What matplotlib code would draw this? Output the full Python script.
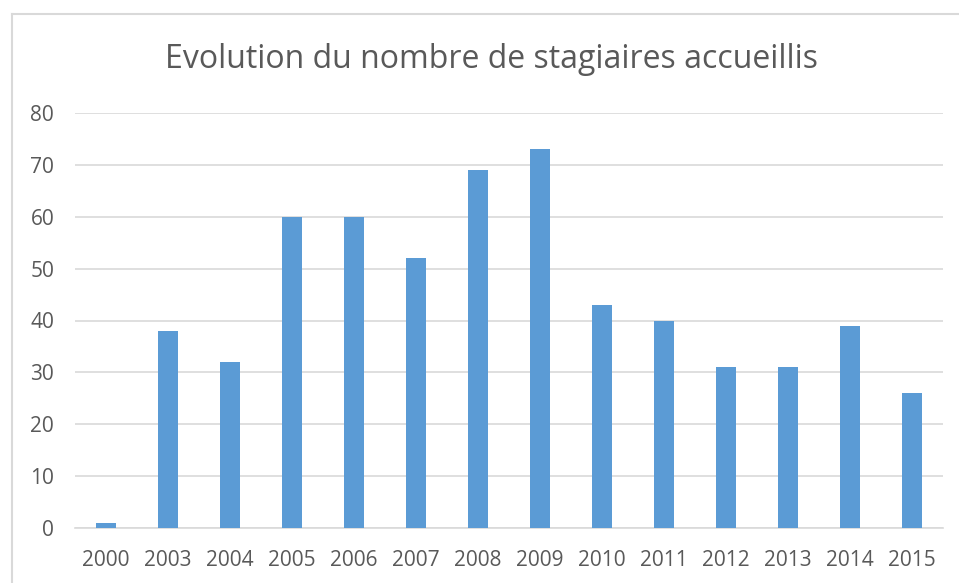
import matplotlib
matplotlib.use("Agg")
import matplotlib.pyplot as plt
from matplotlib.lines import Line2D

years = ["2000", "2003", "2004", "2005", "2006", "2007", "2008", "2009",
         "2010", "2011", "2012", "2013", "2014", "2015"]
stagiaires = [1, 38, 32, 60, 60, 52, 69, 73, 43, 40, 31, 31, 39, 26]
y_ticks = [0, 10, 20, 30, 40, 50, 60, 70, 80]
title = "Evolution du nombre de stagiaires accueillis"

plt.rcParams['font.family'] = ['Open Sans', 'DejaVu Sans']

fig = plt.figure(figsize=(9.59, 5.83), dpi=100)
fig.patch.set_facecolor("white")
fx0, fy0 = 11.5 / 959, 1 - 14 / 583
fig.lines.append(Line2D([fx0, fx0], [0, fy0], transform=fig.transFigure,
                        color="#D9D9D9", linewidth=1.5))
fig.lines.append(Line2D([fx0, 1], [fy0, fy0], transform=fig.transFigure,
                        color="#D9D9D9", linewidth=1.5))

ax = fig.add_axes([75/959, 1 - 528/583, (943 - 75)/959, (528 - 113)/583])
x = list(range(len(years)))
ax.bar(x, stagiaires, width=0.31, color="#5B9BD5", zorder=3)
ax.set_xlim(-0.5, len(years) - 0.5)
ax.set_ylim(0, 80)
ax.set_yticks(y_ticks)
ax.set_xticks(x)
ax.set_xticklabels(years)
ax.yaxis.grid(True, color="#D9D9D9", linewidth=1.2, zorder=0)
ax.set_axisbelow(True)
for s in ["top", "right", "left"]:
    ax.spines[s].set_visible(False)
ax.spines["bottom"].set_color("#D9D9D9")
ax.spines["bottom"].set_linewidth(1.2)
ax.tick_params(axis="both", length=0, labelsize=15, labelcolor="#595959")
ax.tick_params(axis="x", pad=16)
ax.tick_params(axis="y", pad=15)
fig.text(491/959, 1 - 60/583, title, ha="center", va="center",
         fontsize=23, color="#595959")

fig.savefig("out.png", dpi=100, facecolor="white")
